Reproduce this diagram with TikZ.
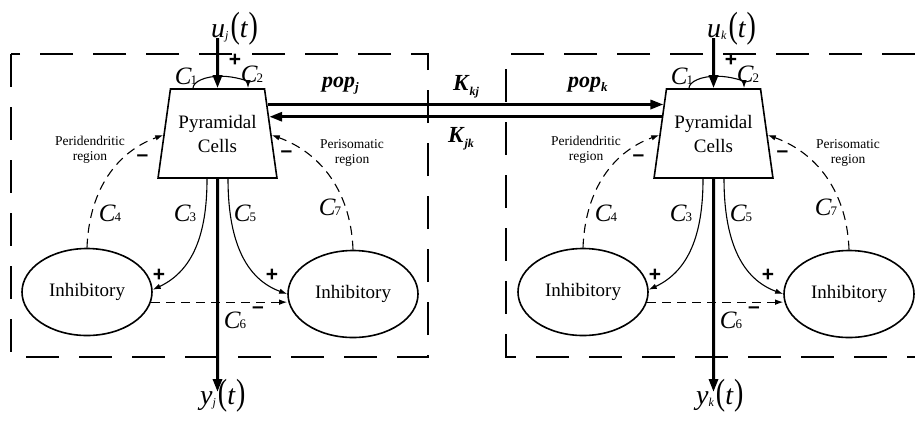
\documentclass[tikz,border=0pt]{standalone}
\usepackage{fontspec}
\setmainfont{Liberation Serif}
\newfontfamily\signfont{Liberation Sans}
\usepackage{graphicx}
\usetikzlibrary{shapes.geometric,arrows.meta,calc}

\newcommand{\myC}[1]{{\fontsize{25}{25}\selectfont\itshape C\kern-1pt}{\fontsize{13}{13}\selectfont #1}}
\newcommand{\mysig}[2]{{\fontsize{28}{28}\selectfont\itshape #1}\raisebox{-2pt}{\fontsize{12}{12}\selectfont\itshape #2}\kern2pt\scalebox{1}[1.3]{\fontsize{28}{28}\selectfont(}{\fontsize{28}{28}\selectfont\itshape t}\kern1pt\scalebox{1}[1.3]{\fontsize{28}{28}\selectfont)}}
\newcommand{\mypop}[1]{{\fontsize{22}{22}\selectfont\bfseries\itshape pop}\raisebox{-4pt}{\fontsize{13}{13}\selectfont\bfseries\itshape #1}}
\newcommand{\myK}[1]{{\fontsize{23}{23}\selectfont\bfseries\itshape K}\kern1pt\raisebox{-5pt}{\fontsize{12}{12}\selectfont\bfseries\itshape #1}}

\begin{document}
\begin{tikzpicture}[x=1pt,y=1pt,
  box/.style={line width=1.6pt, dash pattern=on 33pt off 20pt},
  pyr/.style={draw, line width=1.6pt, trapezium, trapezium left angle=75, trapezium right angle=75, trapezium stretches=true, minimum width=119pt, minimum height=89pt, inner sep=1pt, align=center, font=\fontsize{19}{24}\selectfont},
  inh/.style={draw, line width=1.6pt, ellipse, minimum width=130pt, minimum height=87pt, inner sep=0pt, font=\fontsize{19}{19}\selectfont},
  big/.style={line width=3pt, -{Triangle[length=13pt,width=9pt]}},
  thinarr/.style={line width=1.1pt, -{Latex[length=8pt,width=5.5pt]}},
  dsh/.style={thinarr, dash pattern=on 9pt off 6pt},
  sign/.style={font=\signfont\bfseries\fontsize{21}{21}\selectfont, inner sep=0pt},
  region/.style={font=\fontsize{13.5}{15}\selectfont, align=center, inner sep=0pt},
  lab/.style={inner sep=0pt}
]
\useasboundingbox (0,0) rectangle (915,-424);

\foreach \dx/\s in {0/j,496/k}{
\begin{scope}[xshift=\dx pt]
  \node[pyr] (p\s) at (217.5,-133.5) {Pyramidal\\Cells};
  \node[inh] (a\s) at (87,-292) {Inhibitory};
  \node[inh] (b\s) at (353,-294) {Inhibitory};
  \coordinate (u\s) at (217.5,-38);
  \coordinate (y\s) at (217.5,-392);
  \draw[big] (u\s) -- (p\s.north);
  \draw[big] (p\s.south) -- (y\s);
  \node[lab, anchor=base west] at (211,-37) {\mysig{u}{\s}};
  \node[lab, anchor=base west] at (200,-404) {\mysig{y}{\s}};
  % C1 / C2 loop
  \draw[thinarr] ($(p\s.north)+(-24.5,0)$) arc[start angle=180, end angle=0, x radius=27.5, y radius=12];
  \node[lab] at (186,-76) {\myC{1}};
  \node[sign] at (235,-60) {+};
  \node[lab] at (252,-74) {\myC{2}};
  % regions
  \node[region] at (90,-150) {Peridendritic\\region};
  \node[region] at (352,-153) {Perisomatic\\region};
  \node[sign] at (142.5,-158) {–};
  \node[sign] at (286.5,-154.5) {–};
  % inhibitory feedback
  \draw[dsh] (a\s.north) to[out=88,in=200] ($(p\s.top left corner)!0.517!(p\s.bottom left corner)$);
  \draw[dsh] (b\s.north) to[out=92,in=-20] ($(p\s.top right corner)!0.517!(p\s.bottom right corner)$);
  % excitatory
  \draw[thinarr] ($(p\s.south)+(-10.5,0)$) to[out=-90,in=25] (a\s.2);
  \draw[thinarr] ($(p\s.south)+(10.5,0)$) to[out=-90,in=160] (b\s.west);
  \draw[dsh] (a\s.-9) -- (a\s.-9 -| b\s.west);
  % labels
  \node[lab] at (110,-213) {\myC{4}};
  \node[lab] at (185,-213) {\myC{3}};
  \node[lab] at (245,-213) {\myC{5}};
  \node[lab] at (330,-207) {\myC{7}};
  \node[lab] at (235,-320) {\myC{6}};
  \node[sign] at (159,-275) {+};
  \node[sign] at (272,-275) {+};
  \node[sign] at (258,-310) {–};
\end{scope}
}

\draw[box] (11,-54) rectangle (428,-357);
\draw[box] (915,-54) -- (506,-54) -- (506,-357) -- (915,-357);

\node[lab, anchor=base west] at (322,-87) {\mypop{j}};
\node[lab, anchor=base west] at (568,-87) {\mypop{k}};

\draw[big] ($(pj.top right corner)!0.18!(pj.bottom right corner)$) -- ($(pk.top left corner)!0.18!(pk.bottom left corner)$);
\draw[big] ($(pk.top left corner)!0.315!(pk.bottom left corner)$) -- ($(pj.top right corner)!0.315!(pj.bottom right corner)$);

\node[lab, anchor=base west] at (453,-90) {\myK{kj}};
\node[lab, anchor=base west] at (448,-142) {\myK{jk}};
\end{tikzpicture}
\end{document}
